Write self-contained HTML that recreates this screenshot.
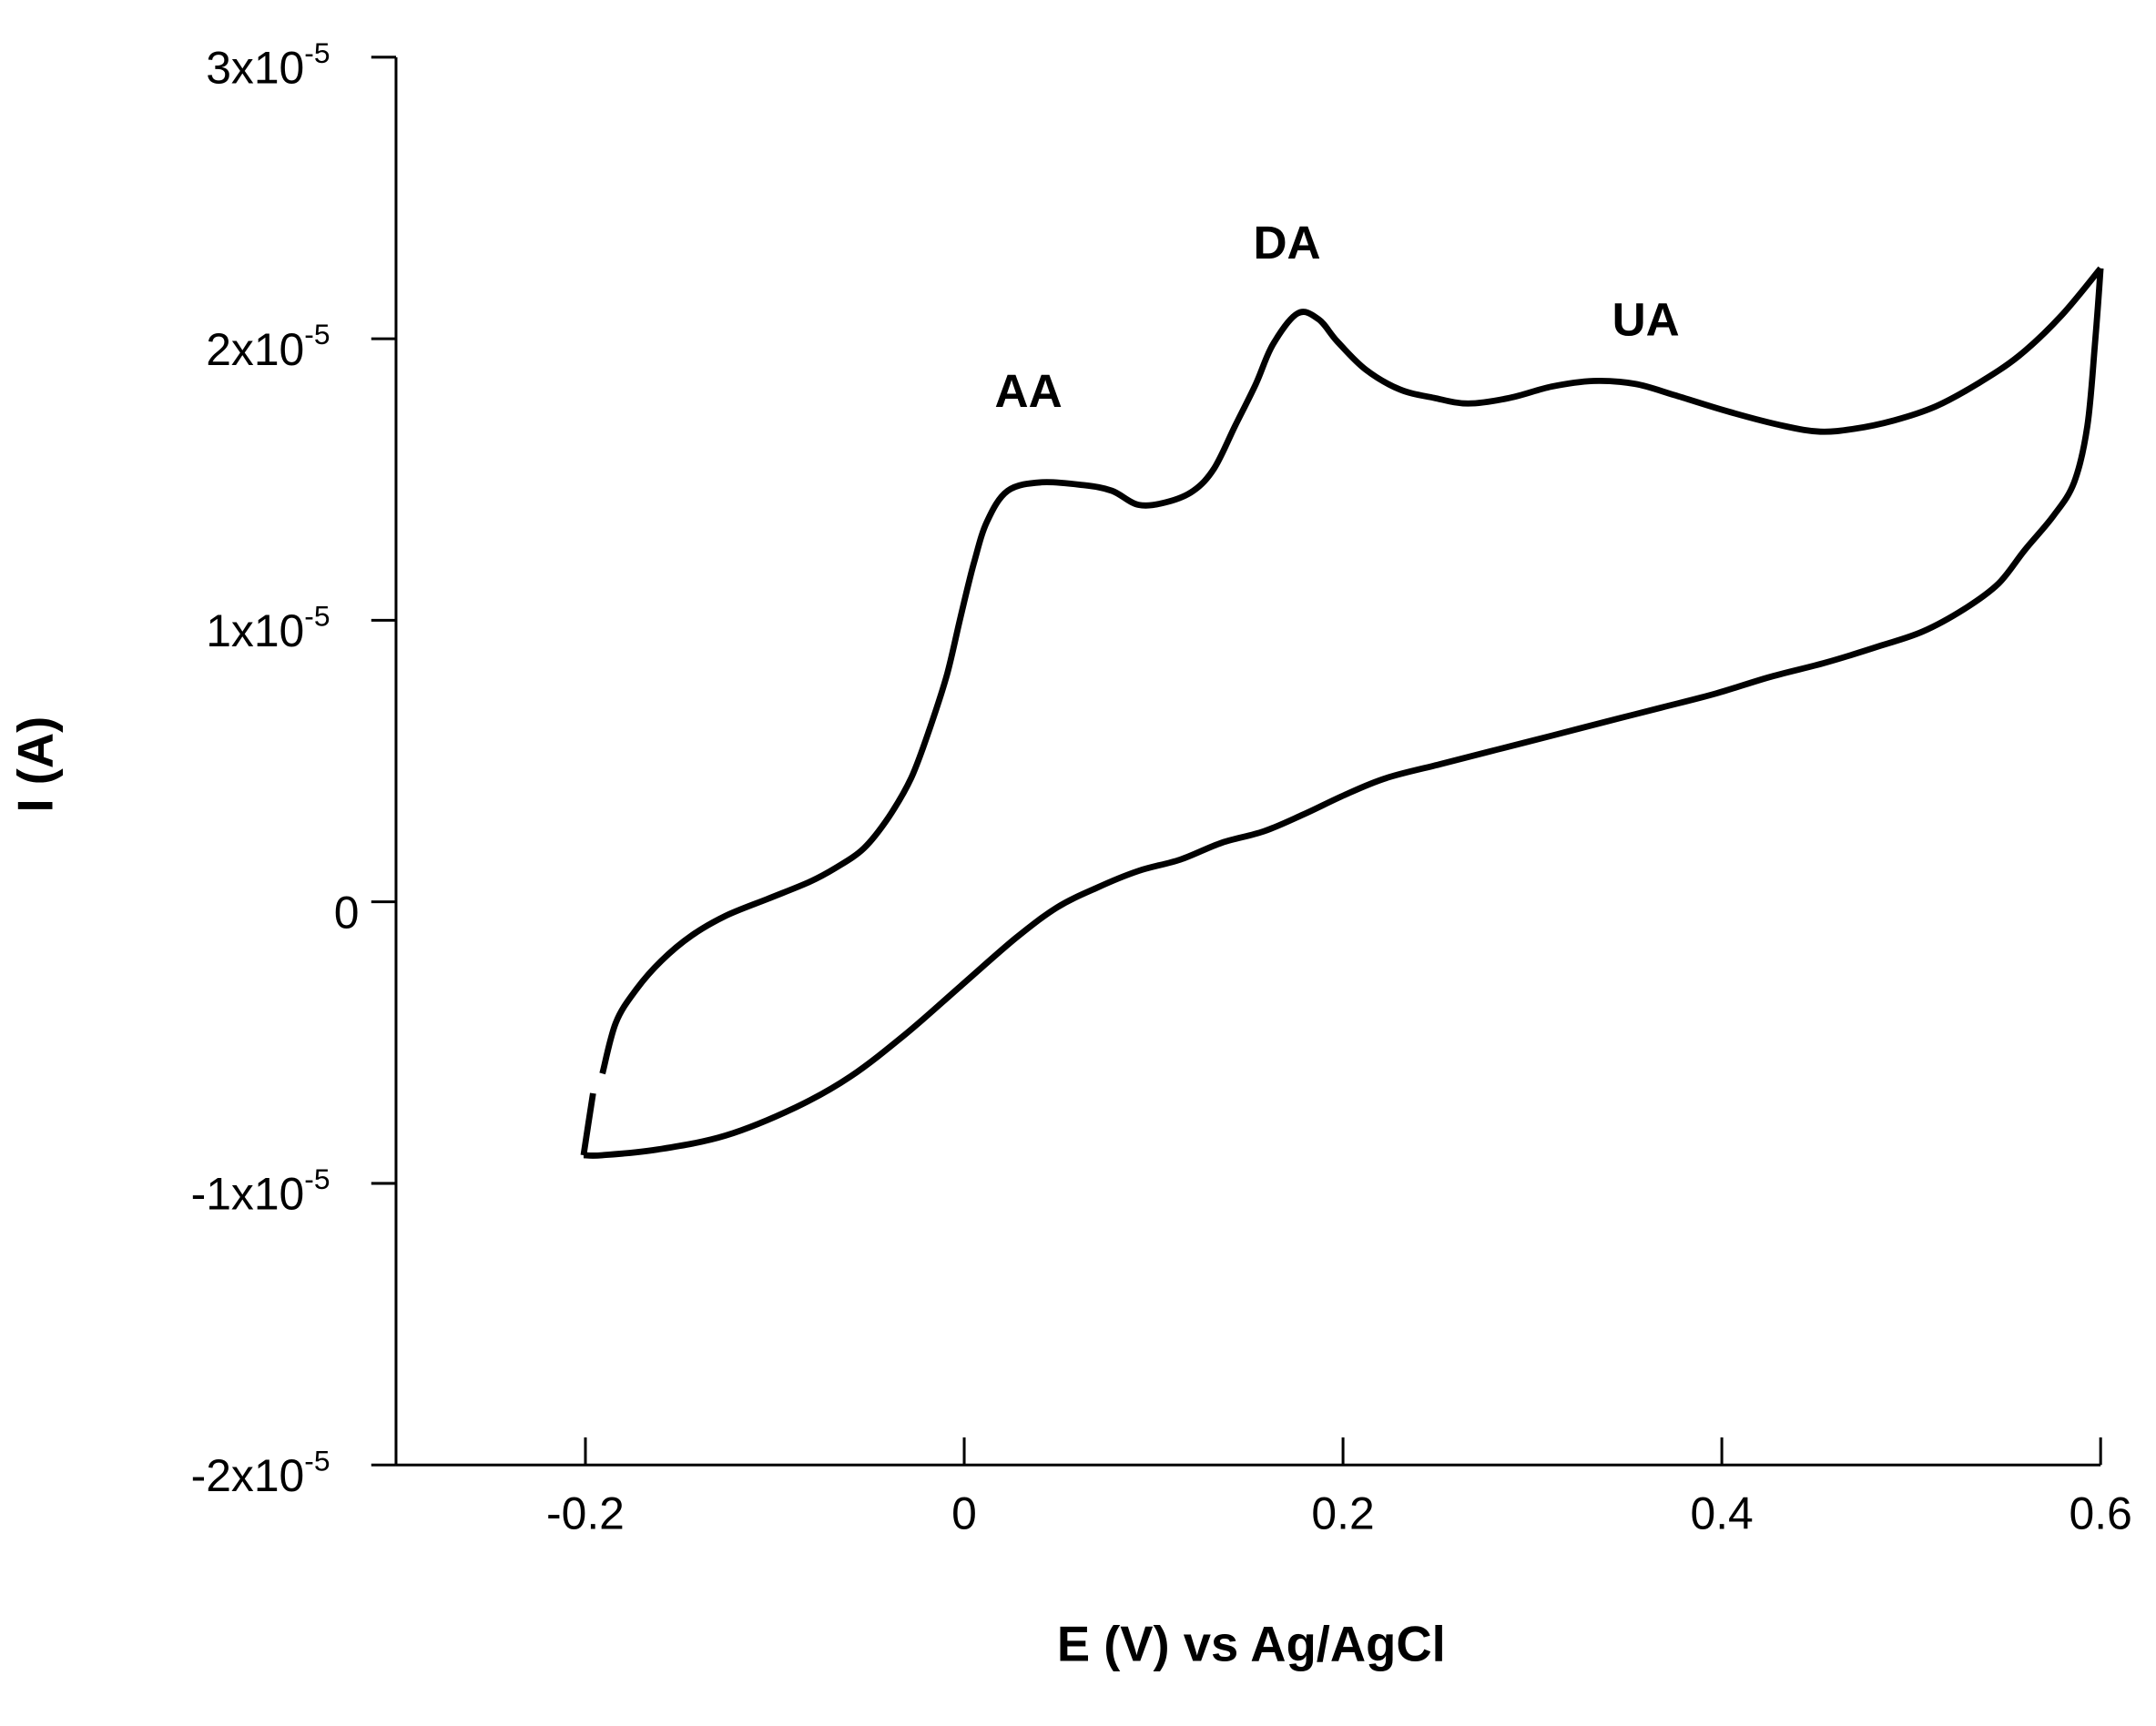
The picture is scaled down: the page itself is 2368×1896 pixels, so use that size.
<!DOCTYPE html>
<html><head><meta charset="utf-8"><style>
html,body{margin:0;padding:0;background:#fff}
svg{display:block}
text{font-family:"Liberation Sans",Arial,sans-serif;fill:#000}
</style></head><body>
<svg id="chart" width="2368" height="1896" viewBox="0 0 1568 1255.5" xmlns="http://www.w3.org/2000/svg">
<g id="axes"></g>
<g id="series"></g>
<text x="910" y="1208" font-size="36" font-weight="bold" text-anchor="middle">E (V) vs Ag/AgCl</text>
<text x="38" y="556" font-size="36" font-weight="bold" text-anchor="middle" transform="rotate(-90 38 556)">I (A)</text>
<text x="748" y="296" font-size="34" font-weight="bold" text-anchor="middle">AA</text>
<text x="936" y="188" font-size="34" font-weight="bold" text-anchor="middle">DA</text>
<text x="1197" y="244" font-size="34" font-weight="bold" text-anchor="middle">UA</text>
</svg>
<script>
const xTicks=[-0.2,0,0.2,0.4,0.6];
const xTickLabels=["-0.2","0","0.2","0.4","0.6"];
const yTicks=[3,2,1,0,-1,-2];
const yTickLabels=["3x10","2x10","1x10","0","-1x10","-2x10"];
const fwdE=[-0.201,-0.196,-0.191,-0.184,-0.173,-0.160,-0.144,-0.126,-0.104,-0.082,-0.068,-0.053,-0.040,-0.028,-0.018,-0.009,-0.002,0.005,0.012,0.023,0.041,0.063,0.078,0.092,0.107,0.121,0.132,0.143,0.154,0.163,0.176,0.187,0.197,0.212,0.230,0.248,0.266,0.288,0.310,0.332,0.354,0.375,0.404,0.433,0.452,0.470,0.491,0.513,0.535,0.557,0.579,0.600];
const fwdI=[-0.90,-0.68,-0.61,-0.43,-0.31,-0.21,-0.12,-0.05,0.01,0.07,0.12,0.19,0.30,0.44,0.62,0.81,1.01,1.20,1.35,1.46,1.49,1.48,1.46,1.41,1.42,1.46,1.54,1.69,1.84,1.98,2.09,2.07,1.99,1.89,1.82,1.79,1.77,1.79,1.83,1.85,1.84,1.80,1.74,1.69,1.67,1.68,1.71,1.76,1.84,1.94,2.08,2.25];
const revE=[0.600,0.597,0.593,0.586,0.575,0.560,0.546,0.528,0.506,0.484,0.455,0.426,0.397,0.368,0.339,0.310,0.281,0.252,0.223,0.201,0.179,0.158,0.136,0.114,0.092,0.070,0.049,0.027,-0.002,-0.031,-0.060,-0.089,-0.126,-0.162,-0.191,-0.201];
const revI=[2.25,1.98,1.69,1.49,1.37,1.25,1.13,1.04,0.96,0.91,0.85,0.80,0.74,0.69,0.64,0.59,0.54,0.49,0.44,0.38,0.31,0.25,0.21,0.15,0.11,0.05,-0.02,-0.13,-0.30,-0.47,-0.62,-0.73,-0.83,-0.88,-0.90,-0.90];
const NS="http://www.w3.org/2000/svg";
const X0=288,XPX=1377.5,Y0=656,YPX=204.8;
function sx(e){return X0+(e+0.3)*XPX;}
function sy(i){return Y0-i*YPX;}
function mk(tag,attrs,parent){const el=document.createElementNS(NS,tag);for(const k in attrs)el.setAttribute(k,attrs[k]);parent.appendChild(el);return el;}
const axes=document.getElementById('axes');
let yl=mk('line',{x1:X0,y1:sy(3),x2:X0,y2:sy(-2),stroke:'#000','stroke-width':2},axes);


let xl=mk('line',{x1:X0,y1:sy(-2),x2:sx(0.6),y2:sy(-2),stroke:'#000','stroke-width':2},axes);


xTicks.forEach((v,k)=>{
 const t=mk('line',{x1:sx(v),y1:sy(-2),x2:sx(v),y2:sy(-2)-20,stroke:'#000','stroke-width':2},axes);
 
 
 const tx=mk('text',{x:sx(v),y:1112,'font-size':33,'text-anchor':'middle'},axes);
 tx.textContent=xTickLabels[k];
 
 
});
yTicks.forEach((v,k)=>{
 const t=mk('line',{x1:X0-18,y1:sy(v),x2:X0,y2:sy(v),stroke:'#000','stroke-width':2},axes);
 
 
 const tx=mk('text',{x:v===0?252:240,y:sy(v)+19,'font-size':33,'text-anchor':v===0?'middle':'end'},axes);
 tx.textContent=yTickLabels[k];
 if(v!==0){const s=mk('tspan',{dy:-15,'font-size':21},tx);s.textContent='-5';}
 
 
});
const series=document.getElementById('series');
function path(E,I,a,b){
 const P=[];for(let k=a;k<b;k++)P.push([sx(E[k]),sy(I[k])]);
 let d='M'+P[0][0].toFixed(1)+','+P[0][1].toFixed(1);
 for(let k=0;k<P.length-1;k++){
  const p0=P[Math.max(k-1,0)],p1=P[k],p2=P[k+1],p3=P[Math.min(k+2,P.length-1)];
  const c1=[p1[0]+(p2[0]-p0[0])/6,p1[1]+(p2[1]-p0[1])/6];
  const c2=[p2[0]-(p3[0]-p1[0])/6,p2[1]-(p3[1]-p1[1])/6];
  d+='C'+c1[0].toFixed(1)+','+c1[1].toFixed(1)+' '+c2[0].toFixed(1)+','+c2[1].toFixed(1)+' '+p2[0].toFixed(1)+','+p2[1].toFixed(1);
 }
 return d;}
const p1=mk('path',{d:path(fwdE,fwdI,0,2),fill:'none',stroke:'#000','stroke-width':4.5,'stroke-linejoin':'round'},series);


const p2=mk('path',{d:path(fwdE,fwdI,2,fwdE.length),fill:'none',stroke:'#000','stroke-width':4.5,'stroke-linejoin':'round'},series);


const p3=mk('path',{d:path(revE,revI,0,revE.length),fill:'none',stroke:'#000','stroke-width':4.5,'stroke-linejoin':'round'},series);


</script>
</body></html>
